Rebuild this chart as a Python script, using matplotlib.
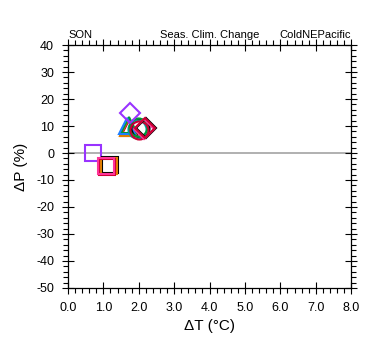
import matplotlib
matplotlib.use("Agg")
import matplotlib.pyplot as plt
from matplotlib.ticker import MultipleLocator, FormatStrFormatter

plt.rcParams['font.family'] = ['Liberation Sans', 'DejaVu Sans']
plt.rcParams['axes.unicode_minus'] = False

# marker groups: (marker, size, colors, dT values, dP values)
sq_colors = ['#9933ff', '#000000', '#e08000', '#cc0033', '#ff3399']
sq_dT = [0.72, 1.19, 1.15, 1.10, 1.06]
sq_dP = [0.0, -4.5, -4.8, -5.2, -5.0]

tri_colors = ['#000000', '#cc0033', '#e08000', '#009933', '#1f7fff']
tri_dT = [1.73, 1.72, 1.70, 1.72, 1.67]
tri_dP = [9.6, 9.4, 9.2, 10.4, 10.0]

circ_colors = ['#000000', '#00a0a0', '#009933', '#cc0033']
circ_dT = [2.03, 1.96, 1.98, 2.00]
circ_dP = [9.3, 9.0, 9.6, 8.5]

dia_colors = ['#9933ff', '#000000', '#ff3399', '#cc0033']
dia_dT = [1.74, 2.20, 2.15, 2.18]
dia_dP = [14.7, 9.4, 8.8, 9.2]

fig = plt.figure(figsize=(3.8, 3.55), dpi=100)
ax = fig.add_axes([0.179, 0.189, 0.745, 0.684])

ax.axhline(0, color='#aaaaaa', lw=1.3, zorder=1)

for m, ms, cols, xs, ys in [('s', 12, sq_colors, sq_dT, sq_dP),
                            ('^', 12, tri_colors, tri_dT, tri_dP),
                            ('o', 13, circ_colors, circ_dT, circ_dP),
                            ('D', 10, dia_colors, dia_dT, dia_dP)]:
    for c, x, y in zip(cols, xs, ys):
        ax.plot(x, y, marker=m, ms=ms, mfc='none', mec=c, mew=1.5, ls='none', zorder=3)

ax.set_xlim(0, 8)
ax.set_ylim(-50, 40)
ax.xaxis.set_major_locator(MultipleLocator(1))
ax.xaxis.set_minor_locator(MultipleLocator(0.2))
ax.yaxis.set_major_locator(MultipleLocator(10))
ax.yaxis.set_minor_locator(MultipleLocator(2))
ax.xaxis.set_major_formatter(FormatStrFormatter('%.1f'))
ax.tick_params(which='major', direction='inout', length=8, width=0.8, labelsize=9,
               top=True, right=True, pad=6)
ax.tick_params(which='minor', direction='out', length=3.5, width=0.8,
               top=True, right=True)
for s in ax.spines.values():
    s.set_linewidth(0.9)

ax.set_xlabel('ΔT (°C)', fontsize=11, labelpad=4)
ax.set_ylabel('ΔP (%)', fontsize=11, labelpad=6)

ax.set_title('SON', loc='left', fontsize=8, pad=5)
ax.set_title('Seas. Clim. Change', loc='center', fontsize=8, pad=5)
ax.set_title('ColdNEPacific', loc='right', fontsize=8, pad=5)

fig.savefig('out.png', dpi=100)
